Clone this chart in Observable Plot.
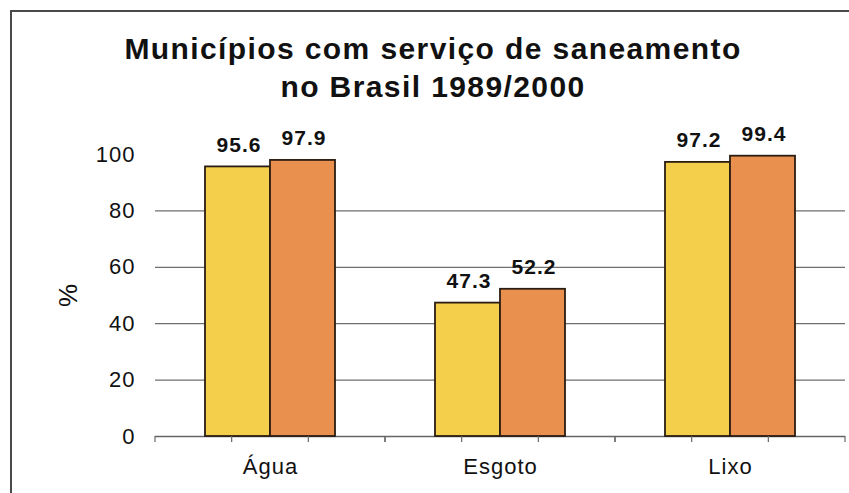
<!DOCTYPE html>
<html>
<head>
<meta charset="utf-8">
<script src="https://cdn.jsdelivr.net/npm/d3@7"></script>
<script src="https://cdn.jsdelivr.net/npm/@observablehq/plot@0.6"></script>
<style>
  html, body { margin: 0; padding: 0; background: #fff; }
  #wrap { position: relative; width: 849px; height: 493px; overflow: hidden; font-family: "Liberation Sans", Arial, sans-serif; }
  #frame { position: absolute; left: 10px; top: 10px; width: 860px; height: 500px; border-left: 2px solid #4a4a4a; border-top: 2px solid #4a4a4a; }
  #title { position: absolute; left: 0; width: 866px; top: 30px; text-align: center; font-weight: bold; font-size: 30px; letter-spacing: 1.4px; line-height: 38px; color: #111; }
  #ylab { position: absolute; left: 57px; top: 280px; font-size: 26px; color: #111; transform: rotate(-90deg); transform-origin: center; }
  #chart { position: absolute; left: 0; top: 0; }
  #chart svg text { letter-spacing: 1px; }
</style>
</head>
<body>
<div id="wrap">
  <div id="chart"></div>
  <div id="frame"></div>
  <div id="title">Municípios com serviço de saneamento<br>no Brasil 1989/2000</div>
  <div id="ylab">%</div>
</div>
<script>
const categories = ["Água", "Esgoto", "Lixo"];
const years = ["1989", "2000"];
const values1989 = [95.6, 47.3, 97.2];
const values2000 = [97.9, 52.2, 99.4];
const yTicks = [0, 20, 40, 60, 80, 100];
const gridValues = [20, 40, 60, 80];
const colors = ["#F4CF4C", "#E9904F"];

const data = [];
categories.forEach((c, i) => {
  data.push({category: c, year: years[0], value: values1989[i]});
  data.push({category: c, year: years[1], value: values2000[i]});
});

function boundaryTicks(index, scales, values, dimensions) {
  const {width, marginLeft, marginRight, height, marginBottom} = dimensions;
  const y0 = height - marginBottom;
  const n = categories.length;
  const step = (width - marginLeft - marginRight) / n;
  const g = d3.create("svg:g").attr("stroke", "#666").attr("stroke-width", 1.2);
  for (let i = 0; i <= n; i++) {
    const x = marginLeft + i * step;
    g.append("line").attr("x1", x).attr("x2", x).attr("y1", y0).attr("y2", y0 + 6);
  }
  return g.node();
}

const chart = Plot.plot({
  width: 849,
  height: 493,
  marginLeft: 154,
  marginRight: 3,
  marginTop: 154,
  marginBottom: 57,
  style: {fontFamily: "Liberation Sans, Arial, sans-serif", background: "transparent", color: "#111"},
  fx: {domain: categories, padding: 0, label: null},
  x: {domain: years, paddingInner: 0, paddingOuter: 0.75, axis: null},
  y: {domain: [0, 100], label: null},
  color: {domain: years, range: colors},
  marks: [
    Plot.ruleY(gridValues, {stroke: "#6f6f6f", strokeWidth: 1.3}),
    Plot.ruleY([0], {stroke: "#666", strokeWidth: 1.3}),
    Plot.barY(data, {fx: "category", x: "year", y: "value", fill: "year", stroke: "#2b1d12", strokeWidth: 1.8}),
    Plot.text(data, {fx: "category", x: "year", y: "value", text: d => d.value.toFixed(1), dy: -22, dx: 1, lineAnchor: "middle", fontSize: 21, fontWeight: "bold", fill: "#111"}),
    Plot.axisY({ticks: yTicks, tickSize: 0, tickPadding: 20, fontSize: 22, label: null}),
    Plot.axisFx({anchor: "bottom", tickSize: 0, tickPadding: 22, fontSize: 22, label: null}),
    boundaryTicks
  ]
});
document.getElementById("chart").appendChild(chart);
</script>
</body>
</html>
